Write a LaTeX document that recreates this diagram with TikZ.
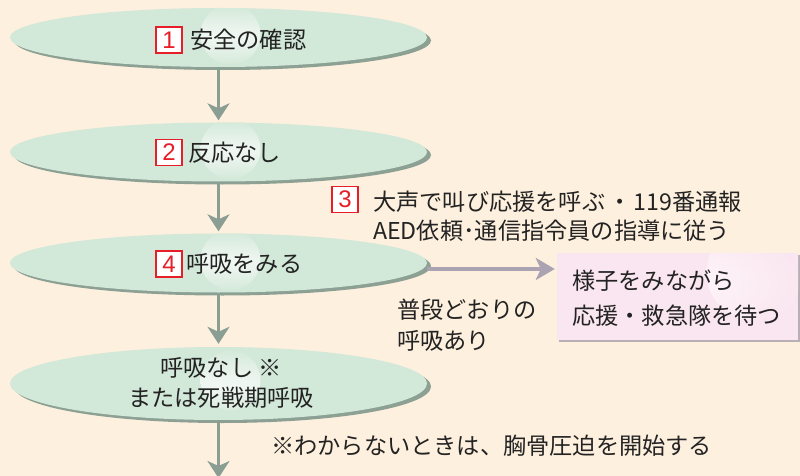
\documentclass[tikz,border=0pt]{standalone}
\usepackage{fontspec}
\setmainfont{Noto Sans CJK JP}
\newfontfamily\numfont{Liberation Sans}
\usetikzlibrary{shapes.geometric,arrows.meta,shadows}
\definecolor{bgc}{RGB}{254,240,222}
\definecolor{mint}{RGB}{210,232,216}
\definecolor{glowc}{RGB}{242,248,244}
\definecolor{shadowc}{RGB}{140,160,148}
\definecolor{arrowc}{RGB}{138,158,148}
\definecolor{lavc}{RGB}{172,163,178}
\definecolor{pinkc}{RGB}{250,230,240}
\definecolor{pinkglow}{RGB}{254,247,250}
\definecolor{textc}{RGB}{35,35,35}
\definecolor{redc}{RGB}{230,30,40}
\definecolor{pshadow}{RGB}{185,176,182}
\begin{document}
\begin{tikzpicture}[x=1pt,y=-1pt,
  oval/.style={ellipse, fill=mint, minimum width=417pt, minimum height=59pt, inner sep=0pt,
    drop shadow={shadow xshift=4pt, shadow yshift=-3pt, fill=shadowc, opacity=1},
    path picture={\shade[inner color=glowc, outer color=mint]
      ([xshift=12pt,yshift=3pt]path picture bounding box.center) circle (30pt);}},
  numbox/.style={draw=redc, line width=1.3pt, fill=white, text=redc, minimum width=26pt,
    minimum height=26pt, inner sep=0pt, font=\numfont\fontsize{24}{24}\selectfont},
  txt/.style={text=textc, inner sep=0pt, font=\fontsize{23.2}{29}\selectfont, align=left},
  pinkbox/.style={rectangle, fill=pinkc, minimum width=241pt, minimum height=87pt, inner sep=0pt,
    drop shadow={shadow xshift=1.5pt, shadow yshift=-2pt, fill=pshadow, opacity=1},
    path picture={\shade[inner color=pinkglow, outer color=pinkc]
      ([xshift=77pt,yshift=24pt]path picture bounding box.center) circle (48pt);}},
  arr/.style={draw=arrowc, line width=3pt, -{Stealth[length=17pt,width=22pt,inset=5pt]}},
  harr/.style={draw=lavc, line width=3.5pt, -{Stealth[length=19pt,width=22pt,inset=5pt]}}
]
\useasboundingbox (0,0) rectangle (800,476);
\fill[bgc] (0,0) rectangle (800,476);

% ovals
\node[oval] (e1) at (218.5,37.5) {};
\node[oval] (e2) at (218.5,152) {};
\node[oval] (e4) at (218.5,263) {};
\node[oval, minimum height=73pt] (e5) at (218.5,383.5) {};

% pink box
\node[pinkbox] (pb) at (677.5,296.5) {};

% labels in ovals
\node[numbox] (n1) at (169,40) {1};
\node[txt, anchor=west] (t1) at (190,40) {安全の確認};
\node[numbox] (n2) at (169,152.5) {2};
\node[txt, anchor=west] (t2) at (188,152.5) {反応なし};
\node[numbox] (n4) at (169,264) {4};
\node[txt, anchor=west] (t4) at (186,264) {呼吸をみる};
\node[txt, align=center, font=\fontsize{23.2}{30.5}\selectfont] (t5) at (221,383) {呼吸なし ※\\または死戦期呼吸};

% step 3
\node[numbox] (n3) at (345,199.5) {3};
\node[txt, anchor=west] (t3) at (373,216.5) {大声で叫び応援を呼ぶ\hspace{3pt}・\hspace{2pt}119番通報\\AED依頼･通信指令員の指導に従う};

% side texts
\node[txt, anchor=west, font=\fontsize{23.2}{35}\selectfont] (tp) at (572,298.5) {様子をみながら\\応援・救急隊を待つ};
\node[txt, anchor=west, font=\fontsize{23.2}{31}\selectfont] (tn) at (397,325.5) {普段どおりの\\呼吸あり};
\node[txt, anchor=west] (note) at (271,446) {※わからないときは、胸骨圧迫を開始する};

% connectors
\draw[arr, shorten >=2pt] (e1.south) -- (e2.north);
\draw[arr, shorten >=2pt] (e2.south) -- (e4.north);
\draw[arr, shorten >=3pt] (e4.south) -- (e5.north);
\coordinate (bot) at (218.5,478);
\draw[arr] (e5.south) -- (bot);
\coordinate (hs) at ([yshift=-6pt]e4.east);
\draw[harr, shorten >=2pt] (hs) -- (hs -| pb.west);
\end{tikzpicture}
\end{document}
